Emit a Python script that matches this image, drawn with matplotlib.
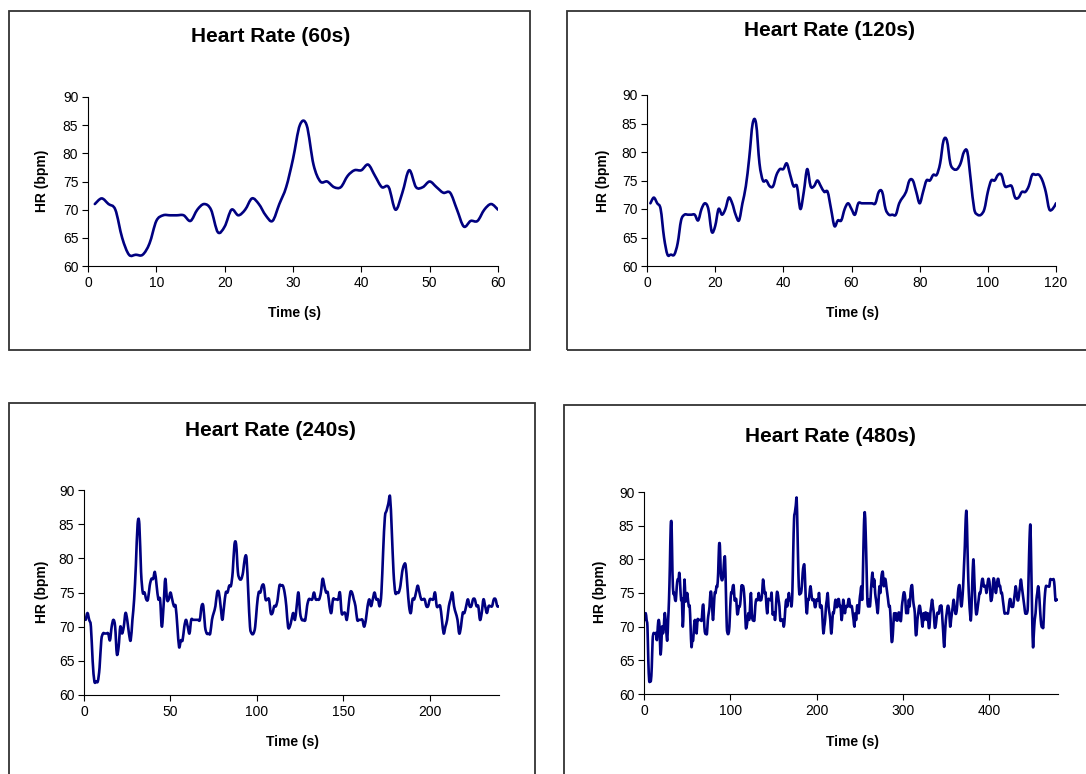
import numpy as np
import matplotlib.pyplot as plt
from matplotlib.path import Path
from matplotlib.patches import PathPatch, Rectangle

plt.rcParams['font.family'] = ['Liberation Sans', 'DejaVu Sans']

# heart rate, one reading per second (bpm)
hr = [
    71, 72, 71, 70, 65, 62, 62, 62, 64, 68,
    69, 69, 69, 69, 68, 70, 71, 70, 66, 67,
    70, 69, 70, 72, 71, 69, 68, 71, 74, 79,
    85, 85, 78, 75, 75, 74, 74, 76, 77, 77,
    78, 76, 74, 74, 70, 73, 77, 74, 74, 75,
    74, 73, 73, 70, 67, 68, 68, 70, 71, 70,
    69, 71, 71, 71, 71, 71, 71, 73, 73, 70,
    69, 69, 69, 71, 72, 73, 75, 75, 73, 71,
    73, 75, 75, 76, 76, 78, 82, 82, 78, 77,
    77, 78, 80, 80, 75, 70, 69, 69, 70, 73,
    75, 75, 76, 76, 74, 74, 74, 72, 72, 73,
    73, 74, 76, 76, 76, 75, 73, 70, 70, 71,
    72, 71, 73, 75, 72, 71, 71, 71, 73, 74,
    74, 74, 75, 74, 74, 74, 75, 77, 76, 75,
    75, 73, 72, 74, 74, 74, 74, 75, 72, 72,
    72, 71, 73, 75, 75, 74, 73, 71, 71, 71,
    71, 70, 71, 73, 74, 73, 74, 75, 74, 74,
    73, 75, 81, 86, 87, 88, 89, 84, 78, 75,
    75, 75, 76, 78, 79, 79, 76, 73, 72, 74,
    74, 75, 76, 75, 74, 74, 74, 73, 73, 74,
    74, 74, 75, 73, 73, 73, 71, 69, 70, 71,
    73, 74, 75, 73, 72, 71, 69, 70, 72, 72,
    73, 74, 73, 73, 74, 74, 73, 73, 71, 72,
    74, 73, 72, 73, 73, 73, 74, 74, 73, 73,
    73, 72, 71, 70, 72, 71, 73, 73, 72, 74,
    75, 76, 74, 79, 85, 87, 84, 79, 74, 73,
    74, 73, 75, 77, 78, 76, 77, 75, 74, 73,
    72, 74, 76, 75, 77, 78, 78, 76, 77, 77,
    76, 75, 74, 73, 73, 71, 68, 68, 70, 72,
    71, 72, 71, 71, 72, 72, 71, 71, 73, 74,
    75, 75, 74, 72, 73, 72, 74, 73, 75, 76,
    76, 74, 73, 72, 69, 69, 71, 72, 73, 73,
    72, 71, 70, 72, 71, 72, 72, 71, 72, 70,
    70, 72, 73, 74, 73, 72, 70, 70, 71, 72,
    72, 72, 73, 73, 73, 71, 69, 67, 69, 71,
    72, 73, 73, 72, 70, 71, 72, 73, 74, 73,
    72, 72, 73, 75, 76, 76, 74, 73, 74, 76,
    79, 82, 86, 87, 82, 77, 74, 72, 71, 74,
    78, 80, 77, 74, 72, 72, 73, 74, 75, 75,
    76, 77, 77, 76, 76, 76, 75, 76, 77, 77,
    76, 74, 74, 75, 77, 77, 76, 75, 76, 77,
    77, 76, 76, 75, 75, 74, 73, 72, 72, 72,
    72, 72, 73, 74, 74, 73, 73, 73, 74, 75,
    76, 75, 74, 74, 75, 76, 77, 76, 75, 74,
    73, 72, 72, 72, 73, 78, 83, 85, 79, 72,
    67, 69, 71, 72, 74, 75, 76, 75, 73, 71,
    70, 70, 70, 73, 75, 76, 76, 76, 76, 76,
    77, 77, 77, 77, 77, 76, 74, 74, 74, 74,
]
windows = [60, 120, 240, 480]
titles = ['Heart Rate (60s)', 'Heart Rate (120s)', 'Heart Rate (240s)', 'Heart Rate (480s)']
xtick_sets = [range(0, 61, 10), range(0, 121, 20), range(0, 201, 50), range(0, 401, 100)]
yticks = range(60, 91, 5)

W, H = 1086, 774
fig = plt.figure(figsize=(W / 100, H / 100), dpi=100)

# pixel layout: chart box, plot area, title/label centres
boxes = [(9, 11, 530, 350), (567, 11, 1100, 350), (9, 403, 535, 790), (564, 405, 1100, 790)]
areas = [(88, 97, 498, 266), (647, 95, 1056, 266), (84, 490, 499, 695), (644, 492, 1058, 694)]
title_pos = [(271, 36), (830, 30), (270, 430), (830, 436)]
ylab_pos = [(42, 181), (603, 181), (42, 592), (600, 592)]
xlab_pos = [(294, 313), (852, 313), (292, 742), (852, 742)]


def smooth_path(x, y):
    # Excel-style smoothed line: cubic bezier through every point
    pts = np.column_stack([x, y]).astype(float)
    n = len(pts)
    verts = [pts[0]]
    codes = [Path.MOVETO]
    for i in range(n - 1):
        p0 = pts[max(i - 1, 0)]
        p1 = pts[i]
        p2 = pts[i + 1]
        p3 = pts[min(i + 2, n - 1)]
        verts += [p1 + (p2 - p0) / 6, p2 - (p3 - p1) / 6, p2]
        codes += [Path.CURVE4] * 3
    return Path(verts, codes)


def fx(x):
    return x / W


def fy(y):
    return 1 - y / H


for k in range(4):
    bx0, by0, bx1, by1 = boxes[k]
    fig.add_artist(Rectangle((fx(bx0), fy(by1)), fx(bx1 - bx0), (by1 - by0) / H,
                             transform=fig.transFigure, fill=False,
                             edgecolor='#333333', linewidth=1.3))

    l, t, r, b = areas[k]
    ax = fig.add_axes([fx(l), fy(b), fx(r - l), (b - t) / H])
    n = windows[k]
    secs = np.arange(1, n + 1)
    ax.add_patch(PathPatch(smooth_path(secs, hr[:n]), fill=False,
                           edgecolor='#000080', linewidth=1.9,
                           joinstyle='round', capstyle='round'))
    ax.set_xlim(0, n)
    ax.set_ylim(60, 90)
    ax.set_xticks(list(xtick_sets[k]))
    ax.set_yticks(list(yticks))
    for s in ['top', 'right']:
        ax.spines[s].set_visible(False)
    for s in ['left', 'bottom']:
        ax.spines[s].set_linewidth(0.8)
    ax.tick_params(direction='out', length=4, width=0.8, labelsize=10, pad=3)

    fig.text(fx(title_pos[k][0]), fy(title_pos[k][1]), titles[k],
             ha='center', va='center', fontsize=15, fontweight='bold')
    fig.text(fx(ylab_pos[k][0]), fy(ylab_pos[k][1]), 'HR (bpm)', rotation=90,
             ha='center', va='center', fontsize=10, fontweight='bold')
    fig.text(fx(xlab_pos[k][0]), fy(xlab_pos[k][1]), 'Time (s)',
             ha='center', va='center', fontsize=10, fontweight='bold')

fig.savefig('out.png', dpi=100)
